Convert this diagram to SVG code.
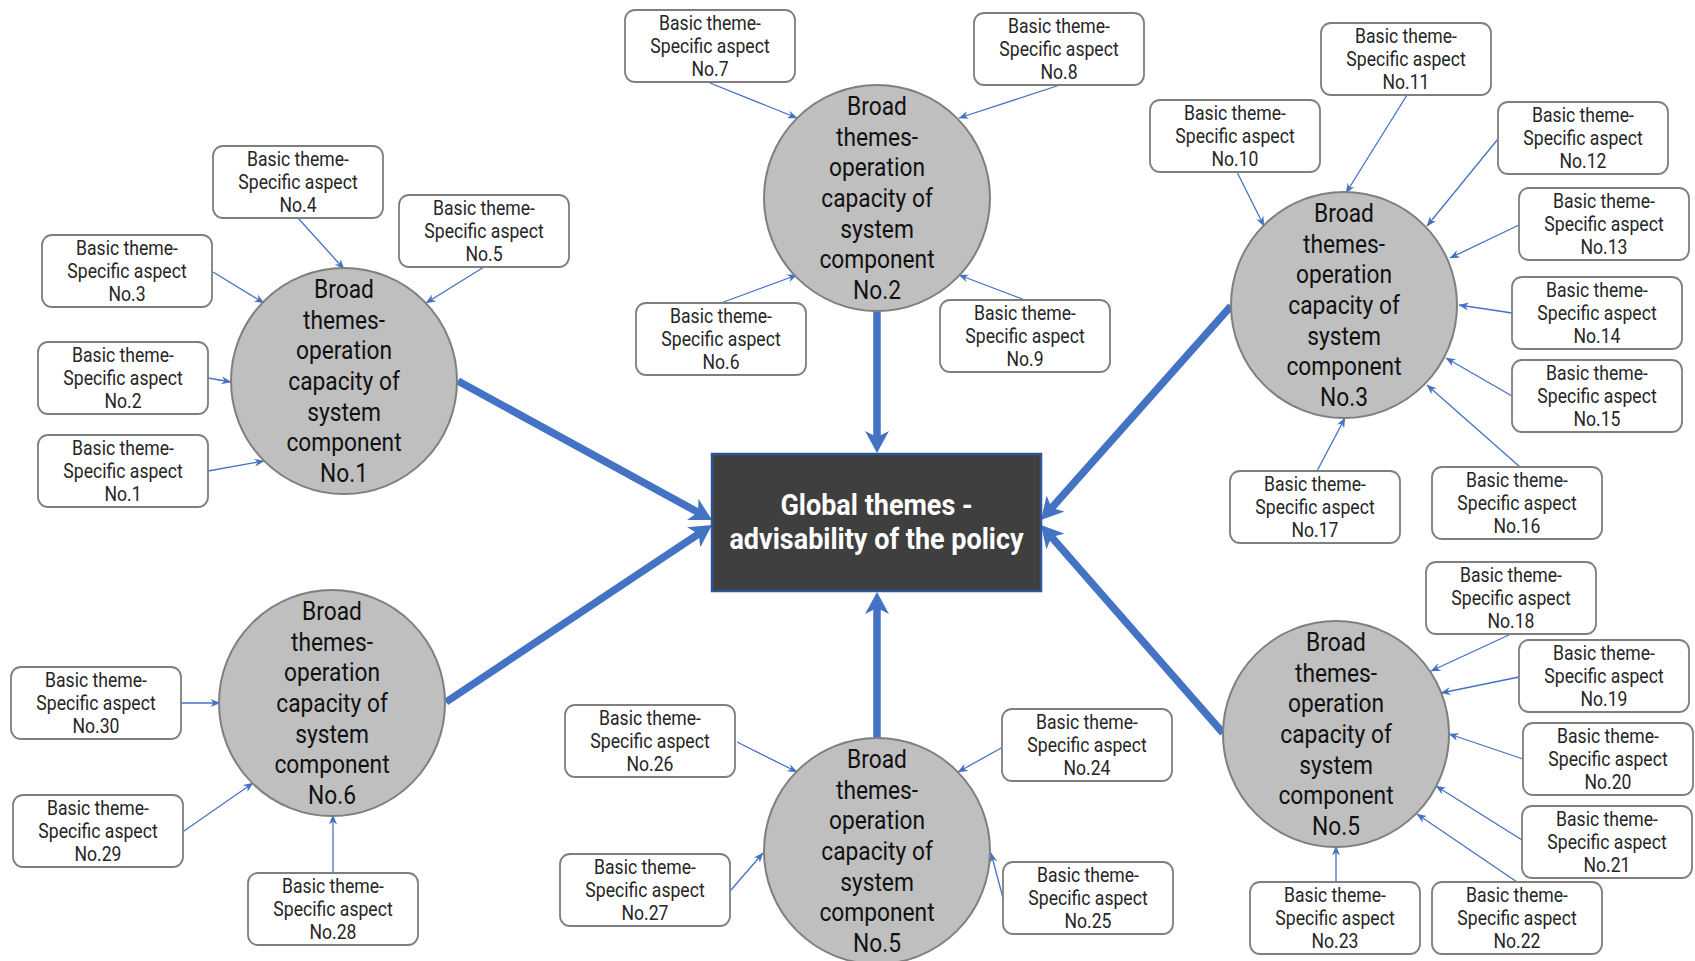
<svg xmlns="http://www.w3.org/2000/svg" width="1695" height="961" viewBox="0 0 1695 961">
<defs>
<style>
.box rect{fill:#ffffff;stroke:#7f7f7f;stroke-width:1.8}
.bt{font-family:Roboto,"Liberation Sans",sans-serif;font-size:20px;fill:#262626;text-anchor:middle}
.circ circle{fill:#bfbfbf;stroke:#7f7f7f;stroke-width:2}
.ct{font-family:Roboto,"Liberation Sans",sans-serif;font-size:25px;fill:#111111;text-anchor:middle}
.thin{stroke:#4472c4;stroke-width:1.3;fill:none;marker-end:url(#ah-thin)}
.thick{stroke:#4472c4;stroke-width:7.5;fill:none;marker-end:url(#ah-thick)}
.gt{font-family:Roboto,"Liberation Sans",sans-serif;font-size:30px;font-weight:bold;fill:#ffffff;text-anchor:middle}
</style>
<marker id="ah-thick" markerUnits="userSpaceOnUse" viewBox="0 0 22 24" refX="6" refY="12" markerWidth="22" markerHeight="24" orient="auto"><path d="M0,0 L22,12 L0,24 L6,12 Z" fill="#4472c4"/></marker>
<marker id="ah-thin" markerUnits="userSpaceOnUse" viewBox="0 0 10 8" refX="9.5" refY="4" markerWidth="10" markerHeight="8" orient="auto"><path d="M0,0 L10,4 L0,8 L3,4 Z" fill="#4472c4"/></marker>
</defs>
<rect width="1695" height="961" fill="#ffffff"/>

<g id="connectors">
<path class="thick" d="M458,381 L698,512.3"/>
<path class="thick" d="M446,702 L698.7,533.9"/>
<path class="thick" d="M1231,306 L1051.6,508"/>
<path class="thick" d="M1223,733 L1051.5,537"/>
<path class="thick" d="M877,311 L877,437"/>
<path class="thick" d="M877,738 L877,608"/>
<path class="thin" d="M208,471 L264,461"/>
<path class="thin" d="M208,378 L231,382"/>
<path class="thin" d="M213,272 L264,303"/>
<path class="thin" d="M298,218 L344,269"/>
<path class="thin" d="M484,267 L426,303"/>
<path class="thin" d="M721,303 L797,275"/>
<path class="thin" d="M710,83 L797,118"/>
<path class="thin" d="M1060,85 L959,118"/>
<path class="thin" d="M1025,300 L959,275"/>
<path class="thin" d="M1237,172 L1264,226"/>
<path class="thin" d="M1407,95 L1346,193"/>
<path class="thin" d="M1498,139 L1427,226"/>
<path class="thin" d="M1519,225 L1450,258"/>
<path class="thin" d="M1512,313 L1459,305"/>
<path class="thin" d="M1512,396 L1446,358"/>
<path class="thin" d="M1520,467 L1427,385"/>
<path class="thin" d="M1317,471 L1345,418"/>
<path class="thin" d="M1511,634 L1431,671"/>
<path class="thin" d="M1519,677 L1441,693"/>
<path class="thin" d="M1523,759 L1449,734"/>
<path class="thin" d="M1522,840 L1436,786"/>
<path class="thin" d="M1517,882 L1417,814"/>
<path class="thin" d="M1336,882 L1336,846"/>
<path class="thin" d="M1003,747 L958,772"/>
<path class="thin" d="M1003,898 L991,853"/>
<path class="thin" d="M737,742 L797,772"/>
<path class="thin" d="M731,890 L763,853"/>
<path class="thin" d="M333,873 L333,815"/>
<path class="thin" d="M184,831 L253,783"/>
<path class="thin" d="M181,703 L220,703"/>
</g>

<g id="global">
<rect x="712" y="454" width="329" height="137" fill="#3f3f3f" stroke="#2f5597" stroke-width="2.5"/>
<text class="gt" transform="translate(876.5 0) scale(0.9 1)"><tspan x="0" y="515">Global themes -</tspan><tspan x="0" y="549">advisability of the policy</tspan></text>
</g>

<g id="broad1" class="circ"><circle cx="344" cy="381" r="113"/>
<text class="ct" transform="translate(344 381) scale(0.91 1)"><tspan x="0" y="-83.1">Broad</tspan><tspan x="0" y="-52.4">themes-</tspan><tspan x="0" y="-21.7">operation</tspan><tspan x="0" y="9">capacity of</tspan><tspan x="0" y="39.7">system</tspan><tspan x="0" y="70.4">component</tspan><tspan x="0" y="101.1">No.1</tspan></text></g>
<g id="broad2" class="circ"><circle cx="877" cy="198" r="113"/>
<text class="ct" transform="translate(877 198) scale(0.91 1)"><tspan x="0" y="-83.1">Broad</tspan><tspan x="0" y="-52.4">themes-</tspan><tspan x="0" y="-21.7">operation</tspan><tspan x="0" y="9">capacity of</tspan><tspan x="0" y="39.7">system</tspan><tspan x="0" y="70.4">component</tspan><tspan x="0" y="101.1">No.2</tspan></text></g>
<g id="broad3" class="circ"><circle cx="1344" cy="305" r="113"/>
<text class="ct" transform="translate(1344 305) scale(0.91 1)"><tspan x="0" y="-83.1">Broad</tspan><tspan x="0" y="-52.4">themes-</tspan><tspan x="0" y="-21.7">operation</tspan><tspan x="0" y="9">capacity of</tspan><tspan x="0" y="39.7">system</tspan><tspan x="0" y="70.4">component</tspan><tspan x="0" y="101.1">No.3</tspan></text></g>
<g id="broad5r" class="circ"><circle cx="1336" cy="734" r="113"/>
<text class="ct" transform="translate(1336 734) scale(0.91 1)"><tspan x="0" y="-83.1">Broad</tspan><tspan x="0" y="-52.4">themes-</tspan><tspan x="0" y="-21.7">operation</tspan><tspan x="0" y="9">capacity of</tspan><tspan x="0" y="39.7">system</tspan><tspan x="0" y="70.4">component</tspan><tspan x="0" y="101.1">No.5</tspan></text></g>
<g id="broad5" class="circ"><circle cx="877" cy="851" r="113"/>
<text class="ct" transform="translate(877 851) scale(0.91 1)"><tspan x="0" y="-83.1">Broad</tspan><tspan x="0" y="-52.4">themes-</tspan><tspan x="0" y="-21.7">operation</tspan><tspan x="0" y="9">capacity of</tspan><tspan x="0" y="39.7">system</tspan><tspan x="0" y="70.4">component</tspan><tspan x="0" y="101.1">No.5</tspan></text></g>
<g id="broad6" class="circ"><circle cx="332" cy="703" r="113"/>
<text class="ct" transform="translate(332 703) scale(0.91 1)"><tspan x="0" y="-83.1">Broad</tspan><tspan x="0" y="-52.4">themes-</tspan><tspan x="0" y="-21.7">operation</tspan><tspan x="0" y="9">capacity of</tspan><tspan x="0" y="39.7">system</tspan><tspan x="0" y="70.4">component</tspan><tspan x="0" y="101.1">No.6</tspan></text></g>

<g id="basic1" class="box"><rect x="38" y="435" width="170" height="72" rx="10"/><text class="bt" transform="translate(123 471) scale(0.88 1)"><tspan x="0" y="-16.5">Basic theme-</tspan><tspan x="0" y="7">Specific aspect</tspan><tspan x="0" y="30.5">No.1</tspan></text></g>
<g id="basic2" class="box"><rect x="38" y="342" width="170" height="72" rx="10"/><text class="bt" transform="translate(123 378) scale(0.88 1)"><tspan x="0" y="-16.5">Basic theme-</tspan><tspan x="0" y="7">Specific aspect</tspan><tspan x="0" y="30.5">No.2</tspan></text></g>
<g id="basic3" class="box"><rect x="42" y="235" width="170" height="72" rx="10"/><text class="bt" transform="translate(127 271) scale(0.88 1)"><tspan x="0" y="-16.5">Basic theme-</tspan><tspan x="0" y="7">Specific aspect</tspan><tspan x="0" y="30.5">No.3</tspan></text></g>
<g id="basic4" class="box"><rect x="213" y="146" width="170" height="72" rx="10"/><text class="bt" transform="translate(298 182) scale(0.88 1)"><tspan x="0" y="-16.5">Basic theme-</tspan><tspan x="0" y="7">Specific aspect</tspan><tspan x="0" y="30.5">No.4</tspan></text></g>
<g id="basic5" class="box"><rect x="399" y="195" width="170" height="72" rx="10"/><text class="bt" transform="translate(484 231) scale(0.88 1)"><tspan x="0" y="-16.5">Basic theme-</tspan><tspan x="0" y="7">Specific aspect</tspan><tspan x="0" y="30.5">No.5</tspan></text></g>
<g id="basic6" class="box"><rect x="636" y="303" width="170" height="72" rx="10"/><text class="bt" transform="translate(721 339) scale(0.88 1)"><tspan x="0" y="-16.5">Basic theme-</tspan><tspan x="0" y="7">Specific aspect</tspan><tspan x="0" y="30.5">No.6</tspan></text></g>
<g id="basic7" class="box"><rect x="625" y="10" width="170" height="72" rx="10"/><text class="bt" transform="translate(710 46) scale(0.88 1)"><tspan x="0" y="-16.5">Basic theme-</tspan><tspan x="0" y="7">Specific aspect</tspan><tspan x="0" y="30.5">No.7</tspan></text></g>
<g id="basic8" class="box"><rect x="974" y="13" width="170" height="72" rx="10"/><text class="bt" transform="translate(1059 49) scale(0.88 1)"><tspan x="0" y="-16.5">Basic theme-</tspan><tspan x="0" y="7">Specific aspect</tspan><tspan x="0" y="30.5">No.8</tspan></text></g>
<g id="basic9" class="box"><rect x="940" y="300" width="170" height="72" rx="10"/><text class="bt" transform="translate(1025 336) scale(0.88 1)"><tspan x="0" y="-16.5">Basic theme-</tspan><tspan x="0" y="7">Specific aspect</tspan><tspan x="0" y="30.5">No.9</tspan></text></g>
<g id="basic10" class="box"><rect x="1150" y="100" width="170" height="72" rx="10"/><text class="bt" transform="translate(1235 136) scale(0.88 1)"><tspan x="0" y="-16.5">Basic theme-</tspan><tspan x="0" y="7">Specific aspect</tspan><tspan x="0" y="30.5">No.10</tspan></text></g>
<g id="basic11" class="box"><rect x="1321" y="23" width="170" height="72" rx="10"/><text class="bt" transform="translate(1406 59) scale(0.88 1)"><tspan x="0" y="-16.5">Basic theme-</tspan><tspan x="0" y="7">Specific aspect</tspan><tspan x="0" y="30.5">No.11</tspan></text></g>
<g id="basic12" class="box"><rect x="1498" y="102" width="170" height="72" rx="10"/><text class="bt" transform="translate(1583 138) scale(0.88 1)"><tspan x="0" y="-16.5">Basic theme-</tspan><tspan x="0" y="7">Specific aspect</tspan><tspan x="0" y="30.5">No.12</tspan></text></g>
<g id="basic13" class="box"><rect x="1519" y="188" width="170" height="72" rx="10"/><text class="bt" transform="translate(1604 224) scale(0.88 1)"><tspan x="0" y="-16.5">Basic theme-</tspan><tspan x="0" y="7">Specific aspect</tspan><tspan x="0" y="30.5">No.13</tspan></text></g>
<g id="basic14" class="box"><rect x="1512" y="277" width="170" height="72" rx="10"/><text class="bt" transform="translate(1597 313) scale(0.88 1)"><tspan x="0" y="-16.5">Basic theme-</tspan><tspan x="0" y="7">Specific aspect</tspan><tspan x="0" y="30.5">No.14</tspan></text></g>
<g id="basic15" class="box"><rect x="1512" y="360" width="170" height="72" rx="10"/><text class="bt" transform="translate(1597 396) scale(0.88 1)"><tspan x="0" y="-16.5">Basic theme-</tspan><tspan x="0" y="7">Specific aspect</tspan><tspan x="0" y="30.5">No.15</tspan></text></g>
<g id="basic16" class="box"><rect x="1432" y="467" width="170" height="72" rx="10"/><text class="bt" transform="translate(1517 503) scale(0.88 1)"><tspan x="0" y="-16.5">Basic theme-</tspan><tspan x="0" y="7">Specific aspect</tspan><tspan x="0" y="30.5">No.16</tspan></text></g>
<g id="basic17" class="box"><rect x="1230" y="471" width="170" height="72" rx="10"/><text class="bt" transform="translate(1315 507) scale(0.88 1)"><tspan x="0" y="-16.5">Basic theme-</tspan><tspan x="0" y="7">Specific aspect</tspan><tspan x="0" y="30.5">No.17</tspan></text></g>
<g id="basic18" class="box"><rect x="1426" y="562" width="170" height="72" rx="10"/><text class="bt" transform="translate(1511 598) scale(0.88 1)"><tspan x="0" y="-16.5">Basic theme-</tspan><tspan x="0" y="7">Specific aspect</tspan><tspan x="0" y="30.5">No.18</tspan></text></g>
<g id="basic19" class="box"><rect x="1519" y="640" width="170" height="72" rx="10"/><text class="bt" transform="translate(1604 676) scale(0.88 1)"><tspan x="0" y="-16.5">Basic theme-</tspan><tspan x="0" y="7">Specific aspect</tspan><tspan x="0" y="30.5">No.19</tspan></text></g>
<g id="basic20" class="box"><rect x="1523" y="723" width="170" height="72" rx="10"/><text class="bt" transform="translate(1608 759) scale(0.88 1)"><tspan x="0" y="-16.5">Basic theme-</tspan><tspan x="0" y="7">Specific aspect</tspan><tspan x="0" y="30.5">No.20</tspan></text></g>
<g id="basic21" class="box"><rect x="1522" y="806" width="170" height="72" rx="10"/><text class="bt" transform="translate(1607 842) scale(0.88 1)"><tspan x="0" y="-16.5">Basic theme-</tspan><tspan x="0" y="7">Specific aspect</tspan><tspan x="0" y="30.5">No.21</tspan></text></g>
<g id="basic22" class="box"><rect x="1432" y="882" width="170" height="72" rx="10"/><text class="bt" transform="translate(1517 918) scale(0.88 1)"><tspan x="0" y="-16.5">Basic theme-</tspan><tspan x="0" y="7">Specific aspect</tspan><tspan x="0" y="30.5">No.22</tspan></text></g>
<g id="basic23" class="box"><rect x="1250" y="882" width="170" height="72" rx="10"/><text class="bt" transform="translate(1335 918) scale(0.88 1)"><tspan x="0" y="-16.5">Basic theme-</tspan><tspan x="0" y="7">Specific aspect</tspan><tspan x="0" y="30.5">No.23</tspan></text></g>
<g id="basic24" class="box"><rect x="1002" y="709" width="170" height="72" rx="10"/><text class="bt" transform="translate(1087 745) scale(0.88 1)"><tspan x="0" y="-16.5">Basic theme-</tspan><tspan x="0" y="7">Specific aspect</tspan><tspan x="0" y="30.5">No.24</tspan></text></g>
<g id="basic25" class="box"><rect x="1003" y="862" width="170" height="72" rx="10"/><text class="bt" transform="translate(1088 898) scale(0.88 1)"><tspan x="0" y="-16.5">Basic theme-</tspan><tspan x="0" y="7">Specific aspect</tspan><tspan x="0" y="30.5">No.25</tspan></text></g>
<g id="basic26" class="box"><rect x="565" y="705" width="170" height="72" rx="10"/><text class="bt" transform="translate(650 741) scale(0.88 1)"><tspan x="0" y="-16.5">Basic theme-</tspan><tspan x="0" y="7">Specific aspect</tspan><tspan x="0" y="30.5">No.26</tspan></text></g>
<g id="basic27" class="box"><rect x="560" y="854" width="170" height="72" rx="10"/><text class="bt" transform="translate(645 890) scale(0.88 1)"><tspan x="0" y="-16.5">Basic theme-</tspan><tspan x="0" y="7">Specific aspect</tspan><tspan x="0" y="30.5">No.27</tspan></text></g>
<g id="basic28" class="box"><rect x="248" y="873" width="170" height="72" rx="10"/><text class="bt" transform="translate(333 909) scale(0.88 1)"><tspan x="0" y="-16.5">Basic theme-</tspan><tspan x="0" y="7">Specific aspect</tspan><tspan x="0" y="30.5">No.28</tspan></text></g>
<g id="basic29" class="box"><rect x="13" y="795" width="170" height="72" rx="10"/><text class="bt" transform="translate(98 831) scale(0.88 1)"><tspan x="0" y="-16.5">Basic theme-</tspan><tspan x="0" y="7">Specific aspect</tspan><tspan x="0" y="30.5">No.29</tspan></text></g>
<g id="basic30" class="box"><rect x="11" y="667" width="170" height="72" rx="10"/><text class="bt" transform="translate(96 703) scale(0.88 1)"><tspan x="0" y="-16.5">Basic theme-</tspan><tspan x="0" y="7">Specific aspect</tspan><tspan x="0" y="30.5">No.30</tspan></text></g>
</svg>
